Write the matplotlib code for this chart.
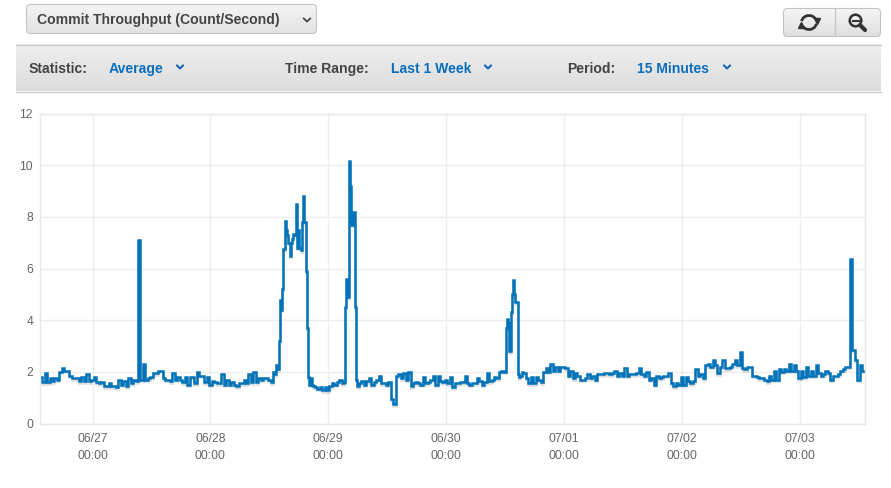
import numpy as np
import matplotlib
matplotlib.use('Agg')
import matplotlib.pyplot as plt
import matplotlib.patheffects as pe
from matplotlib.patches import FancyBboxPatch, Circle, Arc

plt.rcParams['font.family'] = ['Liberation Sans', 'DejaVu Sans']

# Hours are counted from 06/27 00:00
tick_hours = [0, 24, 48, 72, 96, 120, 144]
tick_labels = ['06/27\n00:00', '06/28\n00:00', '06/29\n00:00', '06/30\n00:00',
               '07/01\n00:00', '07/02\n00:00', '07/03\n00:00']
y_ticks = [0, 2, 4, 6, 8, 10, 12]

before_0627 = [1.8, 1.6, 1.95, 1.6, 1.75, 1.65, 1.75, 1.7, 2.0, 2.15, 2.05, 2.05, 1.85, 1.75,
               1.75, 1.75, 1.65, 1.8, 1.65, 1.9, 1.65]
day_0627 = [1.7, 1.8, 1.6, 1.55, 1.6, 1.45, 1.45, 1.55, 1.45, 1.45, 1.4, 1.7, 1.5, 1.65, 1.45,
            1.75, 1.55, 1.7, 1.65, 7.1, 1.7, 2.3, 1.7, 1.75, 1.8, 1.95, 1.95, 2.05, 2.05, 1.75,
            1.7, 1.7, 1.65, 1.95, 1.7, 1.8, 1.7, 1.6, 1.8, 1.5, 1.8, 1.8, 1.55, 2.0, 1.85, 1.85,
            1.6, 1.8]
morning_0628 = [1.5, 1.65, 1.6, 1.55, 1.55, 1.9, 1.5, 1.7, 1.5, 1.6, 1.5, 1.45, 1.55, 1.55, 1.7,
                1.55, 1.9, 1.6, 2.0, 1.6, 1.75, 1.7, 1.75, 1.75, 1.7, 1.6]
burst_0628 = [2.0, 1.9, 2.25, 2.1, 3.2, 4.8, 4.4, 5.2, 6.75, 7.85, 7.5, 7.3, 7.0, 6.5, 7.0, 7.15,
              7.35, 7.3, 8.5, 6.8, 7.5, 6.8, 6.7, 7.8, 8.8, 7.8, 5.9, 3.7, 1.8, 1.5, 1.75, 1.5]
night_0628 = [1.45, 1.4, 1.35, 1.4, 1.3, 1.4, 1.3, 1.45, 1.55, 1.5, 1.6, 1.7, 1.55]
burst_0629 = [1.6, 4.5, 5.6, 4.9, 10.15, 9.2, 7.7, 7.7, 8.2, 4.5, 1.7, 1.45]
calm_0629 = [1.55, 1.65, 1.5, 1.65, 1.75, 1.5, 1.6, 1.7, 1.85, 1.55, 1.55, 1.5, 1.6, 0.95, 0.75,
             1.85, 1.9, 1.75, 1.95, 1.7, 2.0, 1.45, 1.55, 1.6, 1.55, 1.5, 1.8, 1.55, 1.6, 1.7,
             1.85, 1.5, 1.85, 1.65, 1.6, 1.7, 1.55, 1.8, 1.4, 1.55, 1.55, 1.6, 1.6, 1.85, 1.55,
             1.5, 1.55, 1.55, 1.75, 1.65, 1.5, 1.6, 1.95, 1.65, 1.7, 1.8, 1.75, 2.0, 2.05]
burst_0630 = [2.0, 3.7, 4.05, 3.9, 2.8, 4.3, 5.0, 5.55, 5.0, 4.7, 4.7, 1.9, 1.8, 1.85]
evening_0630 = [2.0, 1.95, 1.75, 1.55, 1.8, 1.55, 1.8, 1.7, 1.6, 2.0, 2.15, 2.0, 2.3, 2.05, 2.2,
                2.05, 2.2]
day_0701 = [2.2, 2.15, 1.85, 2.05, 1.75, 1.95, 1.85, 1.7, 1.7, 1.75, 1.9, 1.75, 1.85, 1.7, 1.9,
            1.9, 1.9, 1.95, 1.95, 1.9, 1.95, 2.05, 1.85, 1.95, 1.85, 2.15, 1.85, 1.9, 1.9, 1.9,
            1.95, 2.15, 1.9, 1.85, 2.0, 1.7, 1.75, 1.5, 1.85, 1.75, 1.8, 1.85, 1.85, 1.95, 1.55,
            1.45, 1.55, 1.5]
day_0702 = [1.8, 1.5, 1.8, 1.65, 1.55, 1.65, 2.1, 1.85, 1.9, 1.75, 2.25, 2.3, 2.2, 2.45, 2.25,
            1.95, 2.2, 2.45, 2.15, 2.15, 2.2, 2.3, 2.45, 2.25, 2.75, 2.15, 2.1, 2.2, 2.2, 1.85,
            1.85, 1.8, 1.75, 1.75, 1.7, 1.65, 1.85, 1.7, 2.05, 1.7, 2.1, 2.0, 2.1, 2.05, 2.3,
            2.05, 2.25, 2.05]
day_0703 = [1.75, 2.05, 1.8, 2.2, 1.85, 2.05, 1.85, 2.25, 1.95, 1.85, 1.9, 2.05, 1.95, 1.7, 1.85,
            1.85, 1.9, 2.05, 2.1, 2.2, 2.2, 6.35, 2.85, 2.45, 1.7, 2.25, 2.05]

# start hour, sample step, values
segments = [
    (-10.5, 0.5, before_0627),
    (0, 0.5, day_0627),
    (24, 0.5, morning_0628),
    (37, 0.25, burst_0628),
    (45, 0.5, night_0628),
    (51.25, 0.25, burst_0629),
    (54.5, 0.5, calm_0629),
    (84, 0.25, burst_0630),
    (87.5, 0.5, evening_0630),
    (96, 0.5, day_0701),
    (120, 0.5, day_0702),
    (144, 0.5, day_0703),
]

hours = np.concatenate([start + step * np.arange(len(v)) for start, step, v in segments])
values = np.concatenate([v for _, _, v in segments])

W, H = 891, 488
fig = plt.figure(figsize=(W / 100, H / 100), dpi=100, facecolor='white')

# Chart
ax = fig.add_axes([40 / W, 1 - 423.5 / H, 825 / W, 310 / H])
ax.plot(hours, values, color='#0073b9', linewidth=1.8, drawstyle='steps-mid',
        solid_joinstyle='miter',
        path_effects=[pe.SimpleLineShadow(offset=(0, -1.2), shadow_color='#999999', alpha=0.35),
                      pe.Normal()])
ax.set_xlim(-10.7, 157.3)
ax.set_ylim(0, 12)
ax.set_xticks(tick_hours)
ax.set_xticklabels(tick_labels, linespacing=1.5)
ax.set_yticks(y_ticks)
ax.grid(color='#eeeeee', linewidth=1)
ax.set_axisbelow(True)
ax.tick_params(length=0, labelsize=8.7, labelcolor='#666666')
ax.tick_params(axis='x', pad=7)
ax.tick_params(axis='y', pad=5)
for side in ax.spines.values():
    side.set_color('#e8e8e8')
    side.set_linewidth(1)

# Console controls around the chart, drawn in pixel coordinates
ui = fig.add_axes([0, 0, 1, 1], zorder=5)
ui.set_xlim(0, W)
ui.set_ylim(H, 0)
ui.axis('off')


def gradient_box(x0, y0, x1, y1, top, bottom, edge, radius=0):
    """Vertical gradient rectangle, optionally with rounded corners."""
    grad = np.linspace(0, 1, 64)[:, None]
    c0 = np.array(matplotlib.colors.to_rgb(top))
    c1 = np.array(matplotlib.colors.to_rgb(bottom))
    img = (c0 + (c1 - c0) * grad)[:, None, :].reshape(64, 1, 3)
    im = ui.imshow(img, extent=(x0, x1, y1, y0), aspect='auto', zorder=1)
    if radius:
        box = FancyBboxPatch((x0, y0), x1 - x0, y1 - y0,
                             boxstyle=f'round,pad=0,rounding_size={radius}',
                             facecolor='none', edgecolor=edge, linewidth=0.8, zorder=2)
        ui.add_patch(box)
        im.set_clip_path(box)


def chevron(x, y, color, size=3.0, lw=1.4):
    ui.plot([x - size, x, x + size], [y - 1.5, y + 1.5, y - 1.5], color=color, linewidth=lw, zorder=3)


gradient_box(16, 44, 881, 91, '#eeeeee', '#dddddd', '#cccccc')
ui.plot([16, 881], [44.5, 44.5], color='#cccccc', linewidth=1, zorder=3)
ui.plot([16, 881], [91.5, 91.5], color='#cccccc', linewidth=1, zorder=3)

gradient_box(26.5, 4.5, 316.5, 33.5, '#f5f5f5', '#e2e2e2', '#c4c4c4', radius=4)
ui.text(37, 24, 'Commit Throughput (Count/Second)', fontsize=10.05, fontweight='bold',
        color='#444444', va='baseline', zorder=4)
chevron(307, 20, '#444444', size=3.2, lw=1.3)

dark, blue = '#444444', '#0a6ebd'
for x, label, color in [(29, 'Statistic:', dark), (109, 'Average', blue),
                        (285, 'Time Range:', dark), (391, 'Last 1 Week', blue),
                        (567, 'Period:', dark), (637, '15 Minutes', blue)]:
    ui.text(x, 73, label, fontsize=10.05, fontweight='bold', color=color, va='baseline', zorder=4)
for x in [180, 488, 727]:
    chevron(x, 67, '#0a5fb0')

# Refresh and zoom-out buttons
gradient_box(783.5, 8.5, 880.5, 36.5, '#f5f5f5', '#e0e0e0', '#c4c4c4', radius=4)
ui.plot([834.5, 834.5], [9, 36], color='#c8c8c8', linewidth=1, zorder=3)
icon = '#333333'
ui.add_patch(Arc((809, 22.5), 15, 14, theta1=190, theta2=330, color=icon, linewidth=2, zorder=4))
ui.add_patch(Arc((809, 22.5), 15, 14, theta1=10, theta2=150, color=icon, linewidth=2, zorder=4))
ui.plot([817], [20.5], marker='v', color=icon, markersize=5, zorder=4)
ui.plot([801], [24.5], marker='^', color=icon, markersize=5, zorder=4)
ui.add_patch(Circle((855.5, 20.5), 5.8, facecolor='none', edgecolor=icon, linewidth=1.8, zorder=4))
ui.plot([852.5, 858.5], [20.5, 20.5], color=icon, linewidth=1.5, zorder=4)
ui.plot([860, 865], [25, 30], color=icon, linewidth=3, solid_capstyle='round', zorder=4)
ui.set_xlim(0, W)
ui.set_ylim(H, 0)

fig.savefig('out.png', dpi=100)
